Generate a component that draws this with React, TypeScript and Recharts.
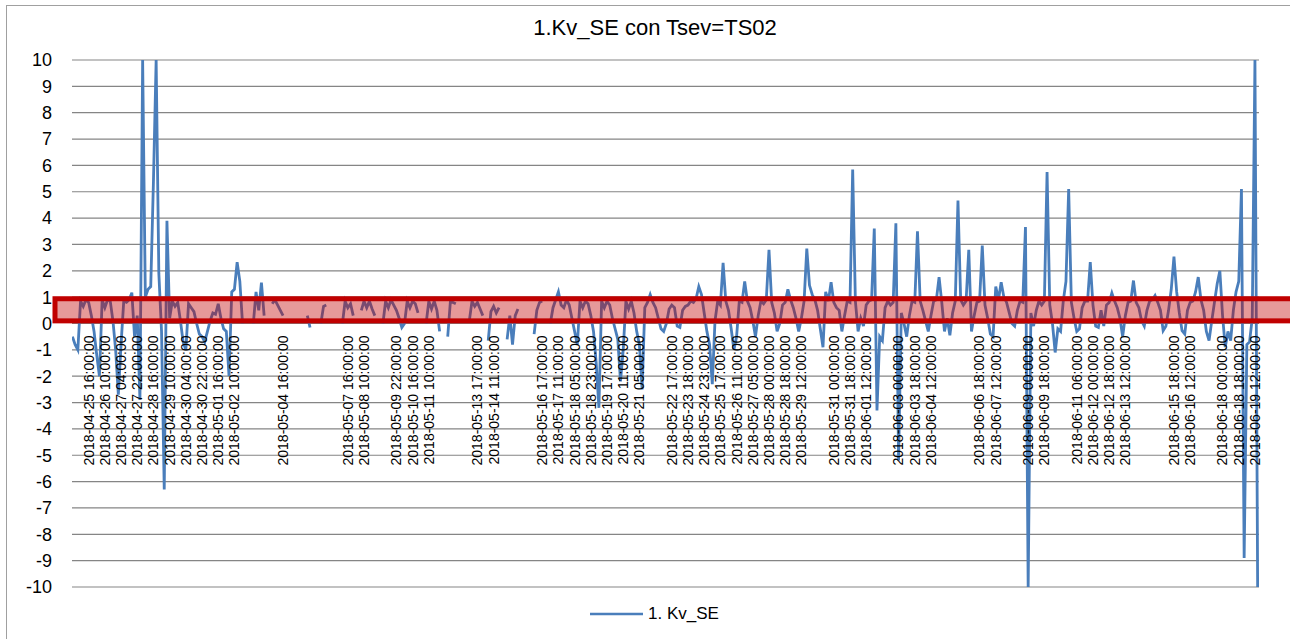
import { LineChart, Line, XAxis, YAxis, CartesianGrid, ReferenceArea, Legend } from "recharts";

const FONT = "'Liberation Sans', Arial, sans-serif";

// one point every 3 sheet rows (~3 h), 8 per day
const STEP = 3;
const ROWS = 1319;

const kvSE: (number | null)[] = [
  -0.5, -0.8, -1.0, 0.85, 0.65, 0.9, 0.8, 0.3,
  -0.3, -1.2, -2.0, 0.9, 0.6, 0.9, 0.85, 0.1,
  -1.0, -2.7, -0.8, 0.85, 0.8, 0.9, 1.17, -0.5,
  0.3, -2.9, 10, 1.0, 1.3, 1.4, 5.4, 10,
  1.9, -0.3, -6.3, 3.9, 0.2, 0.85, 0.65, 0.8,
  0.1, -0.7, -1.0, 0.75, 0.6, 0.45, 0.0, -0.4,
  -0.5, -0.7, -0.3, 0.1, 0.4, 0.35, 0.75, 0.2,
  -0.2, -0.3, -2.0, 1.2, 1.3, 2.33, 1.6, 0.0,
  null, null, null, 0.0, 1.2, 0.5, 1.55, 0.3,
  null, null, 0.75, 0.9, 0.7, 0.5, 0.3, null,
  null, null, null, null, null, null, null, 0.3,
  -0.15, null, null, null, 0.0, 0.65, 0.7, null,
  null, null, null, null, 0.0, 0.85, 0.6, 0.75,
  0.3, null, null, 0.5, 0.85, 0.6, 0.85, 0.55,
  0.3, null, null, 0.0, 0.85, 0.6, 0.9, 0.7,
  0.5, 0.2, -0.15, 0.0, 0.85, 0.6, 0.85, 0.75,
  0.4, null, null, 0.0, 0.85, 0.55, 0.85, 0.5,
  -0.3, null, null, -0.5, 0.85, 0.8, 0.75, null,
  null, null, null, 0.1, 0.85, 0.65, 0.8, 0.55,
  0.3, null, -0.65, 0.45, 0.65, 0.4, 0.6, null,
  null, -0.6, 0.3, -0.8, 0.3, 0.55, null, null,
  null, null, null, -0.4, 0.5, 0.8, 0.85, null,
  null, 0.0, 0.6, 0.9, 1.2, 0.7, 0.6, 0.9,
  0.7, 0.2, -0.3, -0.8, 0.85, 0.6, 0.85, 0.75,
  0.3, -0.3, -1.5, -3.2, 0.85, 0.6, 0.85, 0.7,
  0.2, -0.2, -0.6, -2.2, -1.0, 0.85, 0.55, 0.85,
  0.4, -0.3, -0.8, -2.5, 0.6, 0.8, 1.1, 0.8,
  0.6, 0.2, -0.2, -0.3, 0.0, 0.55, 0.7, 0.6,
  -0.1, -0.15, 0.5, 0.65, 0.7, 0.85, 0.8, 0.95,
  1.4, 1.1, 0.4, -0.3, -0.8, -2.3, 0.1, 0.85,
  0.7, 2.3, 0.85, 0.5, -0.2, -1.0, -0.5, 0.85,
  0.8, 1.6, 0.85, 0.6, 0.1, -0.5, 0.3, 0.85,
  0.75, 0.9, 2.8, 0.8, 0.4, -0.3, 0.0, 0.7,
  0.8, 1.3, 0.9, 0.6, 0.2, -0.3, 0.2, 0.85,
  2.84, 1.45, 1.1, 0.9, 0.5, -0.2, -0.9, 1.2,
  0.85, 1.57, 0.8, 0.6, 0.5, -0.3, 0.3, 0.85,
  0.8, 5.84, 0.85, -0.3, 0.2, -0.1, 0.7, 0.85,
  0.9, 3.6, -3.3, -0.5, -0.65, 0.6, 0.85, 0.7,
  0.8, 3.8, -5.2, 0.4, 0.0, -0.5, 0.3, 0.85,
  0.8, 3.5, 0.85, 0.5, 0.1, -0.3, 0.3, 0.85,
  0.9, 1.76, 0.8, -0.3, 0.2, -0.45, 0.4, 0.85,
  4.67, 0.9, 0.7, 0.85, 2.8, -0.3, 0.3, 0.8,
  0.85, 2.96, 0.7, 0.2, -0.4, -0.5, 1.4, 0.9,
  1.57, 1.0, 0.8, 0.4, 0.0, -0.1, 0.5, 0.85,
  0.8, 3.66, -10, 0.4, -0.1, 0.5, 0.85, 0.7,
  0.85, 5.75, 0.7, 0.0, -1.1, -0.2, -0.3, 0.85,
  1.6, 5.1, 0.8, 0.2, -0.3, -0.2, 0.6, 0.85,
  0.85, 2.33, 0.7, -0.1, -0.15, 0.5, -0.1, 0.7,
  0.8, 1.16, 0.85, 0.6, 0.2, -0.5, 0.3, 0.8,
  0.85, 1.63, 0.8, 0.6, 0.1, -0.1, 0.5, 0.85,
  0.9, 1.06, 0.8, 0.5, -0.27, -0.1, 0.5, 1.3,
  2.54, 1.2, 0.4, -0.27, -0.4, 0.5, 0.8, 0.85,
  1.2, 1.76, 0.9, 0.5, -0.3, -0.65, 0.1, 0.8,
  1.5, 2.0, 0.3, -0.9, -0.3, -0.65, 0.5, 1.2,
  1.6, 5.1, -8.9, -0.8, -0.7, 0.2, 10, -10,
];

const xLabels = [
  "2018-04-25 16:00:00", "2018-04-26 10:00:00", "2018-04-27 04:00:00", "2018-04-27 22:00:00",
  "2018-04-28 16:00:00", "2018-04-29 10:00:00", "2018-04-30 04:00:00", "2018-04-30 22:00:00",
  "2018-05-01 16:00:00", "2018-05-02 10:00:00", "2018-05-04 16:00:00", "2018-05-07 16:00:00",
  "2018-05-08 10:00:00", "2018-05-09 22:00:00", "2018-05-10 16:00:00", "2018-05-11 10:00:00",
  "2018-05-13 17:00:00", "2018-05-14 11:00:00", "2018-05-16 17:00:00", "2018-05-17 11:00:00",
  "2018-05-18 05:00:00", "2018-05-18 23:00:00", "2018-05-19 17:00:00", "2018-05-20 11:00:00",
  "2018-05-21 05:00:00", "2018-05-22 17:00:00", "2018-05-23 18:00:00", "2018-05-24 23:00:00",
  "2018-05-25 17:00:00", "2018-05-26 11:00:00", "2018-05-27 05:00:00", "2018-05-28 00:00:00",
  "2018-05-28 18:00:00", "2018-05-29 12:00:00", "2018-05-31 00:00:00", "2018-05-31 18:00:00",
  "2018-06-01 12:00:00", "2018-06-03 00:00:00", "2018-06-03 18:00:00", "2018-06-04 12:00:00",
  "2018-06-06 18:00:00", "2018-06-07 12:00:00", "2018-06-09 00:00:00", "2018-06-09 18:00:00",
  "2018-06-11 06:00:00", "2018-06-12 00:00:00", "2018-06-12 18:00:00", "2018-06-13 12:00:00",
  "2018-06-15 18:00:00", "2018-06-16 12:00:00", "2018-06-18 00:00:00", "2018-06-18 18:00:00",
  "2018-06-19 12:00:00",
];

// sheet row of each labelled category
const xLabelRows = [
  18, 36, 54, 72, 90, 108, 126, 144, 162, 180, 234, 306, 324, 360, 378, 396,
  450, 468, 522, 540, 558, 576, 594, 612, 630, 666, 684, 702, 720, 738, 756, 774,
  792, 810, 846, 864, 882, 918, 936, 954, 1008, 1026, 1062, 1080, 1116, 1134, 1152, 1170,
  1224, 1242, 1278, 1296, 1314,
];

const yTicks = [-10, -9, -8, -7, -6, -5, -4, -3, -2, -1, 0, 1, 2, 3, 4, 5, 6, 7, 8, 9, 10];

// the red box drawn over the chart
const bandLow = 0.1;
const bandHigh = 0.94;

const data = kvSE.map((v, i) => ({ row: i * STEP, kv: v }));

const W = 1290;
const H = 639;
const MARGIN = { top: 60, right: 31, bottom: 10, left: 0 };
const LEGEND_H = 30;
const XAXIS_H = 12;
const YAXIS_W = 72;
const PLOT_H = H - MARGIN.top - MARGIN.bottom - LEGEND_H - XAXIS_H;

// Excel draws the category labels hanging from the 0 line
function DateTick(props: any) {
  const { x, y, payload } = props;
  const i = xLabelRows.indexOf(payload.value);
  return (
    <text
      transform={`translate(${x},${y - PLOT_H / 2 + 12}) rotate(-90)`}
      textAnchor="end"
      dy="0.35em"
      fontSize={14}
      fontFamily={FONT}
      fill="#000"
    >
      {xLabels[i]}
    </text>
  );
}

function Band(props: any) {
  const { x, y, width, height } = props;
  return (
    <rect x={x - 17} y={y} width={width + 80} height={height}
      fill="rgba(192,0,0,0.4)" stroke="#c00000" strokeWidth={5} />
  );
}

function LegendContent() {
  return (
    <div style={{ height: LEGEND_H, display: "flex", alignItems: "center", justifyContent: "center", paddingLeft: 50, fontFamily: FONT, fontSize: 17, color: "#000" }}>
      <svg width={53} height={6}>
        <line x1={0} y1={3} x2={53} y2={3} stroke="#4a7ebb" strokeWidth={2.5} />
      </svg>
      <span style={{ marginLeft: 5 }}>1. Kv_SE</span>
    </div>
  );
}

export default function App() {
  return (
    <div style={{ position: "absolute", left: 0, top: 0, width: W, height: H, overflow: "hidden", background: "#fff", fontFamily: FONT }}>
      <div style={{ position: "absolute", left: 6, top: 5, width: W + 20, height: H + 20, border: "1px solid #a0a0a0" }} />
      <div style={{ position: "absolute", left: 0, top: 14, width: 1310, textAlign: "center", fontSize: 22, lineHeight: "28px", color: "#000" }}>
        1.Kv_SE con Tsev=TS02
      </div>
      <div style={{ position: "absolute", left: 0, top: 0 }}>
        <LineChart width={W} height={H} data={data} margin={MARGIN}>
          <CartesianGrid vertical={false} stroke="#858585" strokeWidth={1.2} />
          <XAxis
            type="number"
            dataKey="row"
            domain={[-0.5, ROWS - 0.5]}
            ticks={xLabelRows}
            interval={0}
            tick={(p: any) => <DateTick {...p} />}
            tickSize={0}
            tickMargin={0}
            axisLine={false}
            tickLine={false}
            height={XAXIS_H}
            allowDataOverflow
          />
          <YAxis
            domain={[-10, 10]}
            ticks={yTicks}
            interval={0}
            width={YAXIS_W}
            tickSize={0}
            tickMargin={20}
            axisLine={false}
            tickLine={false}
            allowDataOverflow
            tick={{ fontSize: 18, fill: "#000", fontFamily: FONT }}
          />
          <Line
            type="linear"
            dataKey="kv"
            name="1. Kv_SE"
            stroke="#4a7ebb"
            strokeWidth={2.8}
            dot={false}
            isAnimationActive={false}
          />
          <Legend verticalAlign="bottom" height={LEGEND_H} content={LegendContent} />
        </LineChart>
      </div>
      {/* second chart with the same plot area, so the box sits over the line */}
      <div style={{ position: "absolute", left: 0, top: 0, pointerEvents: "none" }}>
        <LineChart
          width={W}
          height={H}
          data={data}
          margin={{ top: MARGIN.top, right: MARGIN.right, left: YAXIS_W, bottom: MARGIN.bottom + LEGEND_H + XAXIS_H }}
        >
          <XAxis type="number" dataKey="row" domain={[-0.5, ROWS - 0.5]} allowDataOverflow hide />
          <YAxis type="number" domain={[-10, 10]} allowDataOverflow hide />
          <ReferenceArea y1={bandLow} y2={bandHigh} shape={Band} ifOverflow="visible" />
        </LineChart>
      </div>
    </div>
  );
}
